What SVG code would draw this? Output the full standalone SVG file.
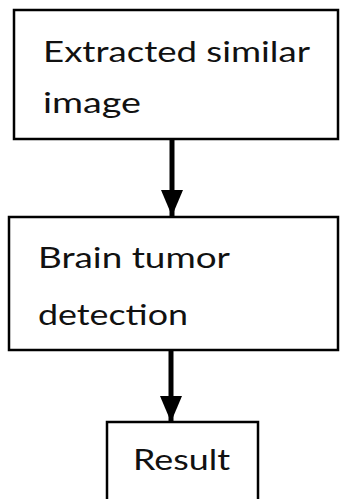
<svg xmlns="http://www.w3.org/2000/svg" width="340" height="499" viewBox="0 0 340 499">
<style>
.box{fill:#fff;stroke:#000;stroke-width:2.5}
.t{font-family:Lato,"Liberation Sans",sans-serif;font-size:28px;fill:#111}
.c{stroke:#000;stroke-width:5;fill:none}
</style>
<defs>
<marker id="ah" markerUnits="userSpaceOnUse" markerWidth="26" markerHeight="22" refX="26" refY="11" orient="auto">
<path d="M0,0 L26,11 L0,22 Z" fill="#000"/>
</marker>
</defs>
<rect width="340" height="499" fill="#fff"/>
<g id="connectors">
<line class="c" x1="172" y1="139" x2="172" y2="216" marker-end="url(#ah)"/>
<line class="c" x1="171" y1="350" x2="171" y2="422" marker-end="url(#ah)"/>
</g>
<g id="n1">
<rect class="box" x="14" y="10" width="324" height="129"/>
<text class="t" x="43" y="62" textLength="267" lengthAdjust="spacingAndGlyphs">Extracted similar</text>
<text class="t" x="43" y="113" textLength="98" lengthAdjust="spacingAndGlyphs">image</text>
</g>
<g id="n2">
<rect class="box" x="9" y="217" width="329" height="133"/>
<text class="t" x="38" y="268" textLength="192" lengthAdjust="spacingAndGlyphs">Brain tumor</text>
<text class="t" x="38" y="325" textLength="150" lengthAdjust="spacingAndGlyphs">detection</text>
</g>
<g id="n3">
<rect class="box" x="107" y="422" width="151" height="90"/>
<text class="t" x="133" y="470" textLength="97" lengthAdjust="spacingAndGlyphs">Result</text>
</g>
</svg>
